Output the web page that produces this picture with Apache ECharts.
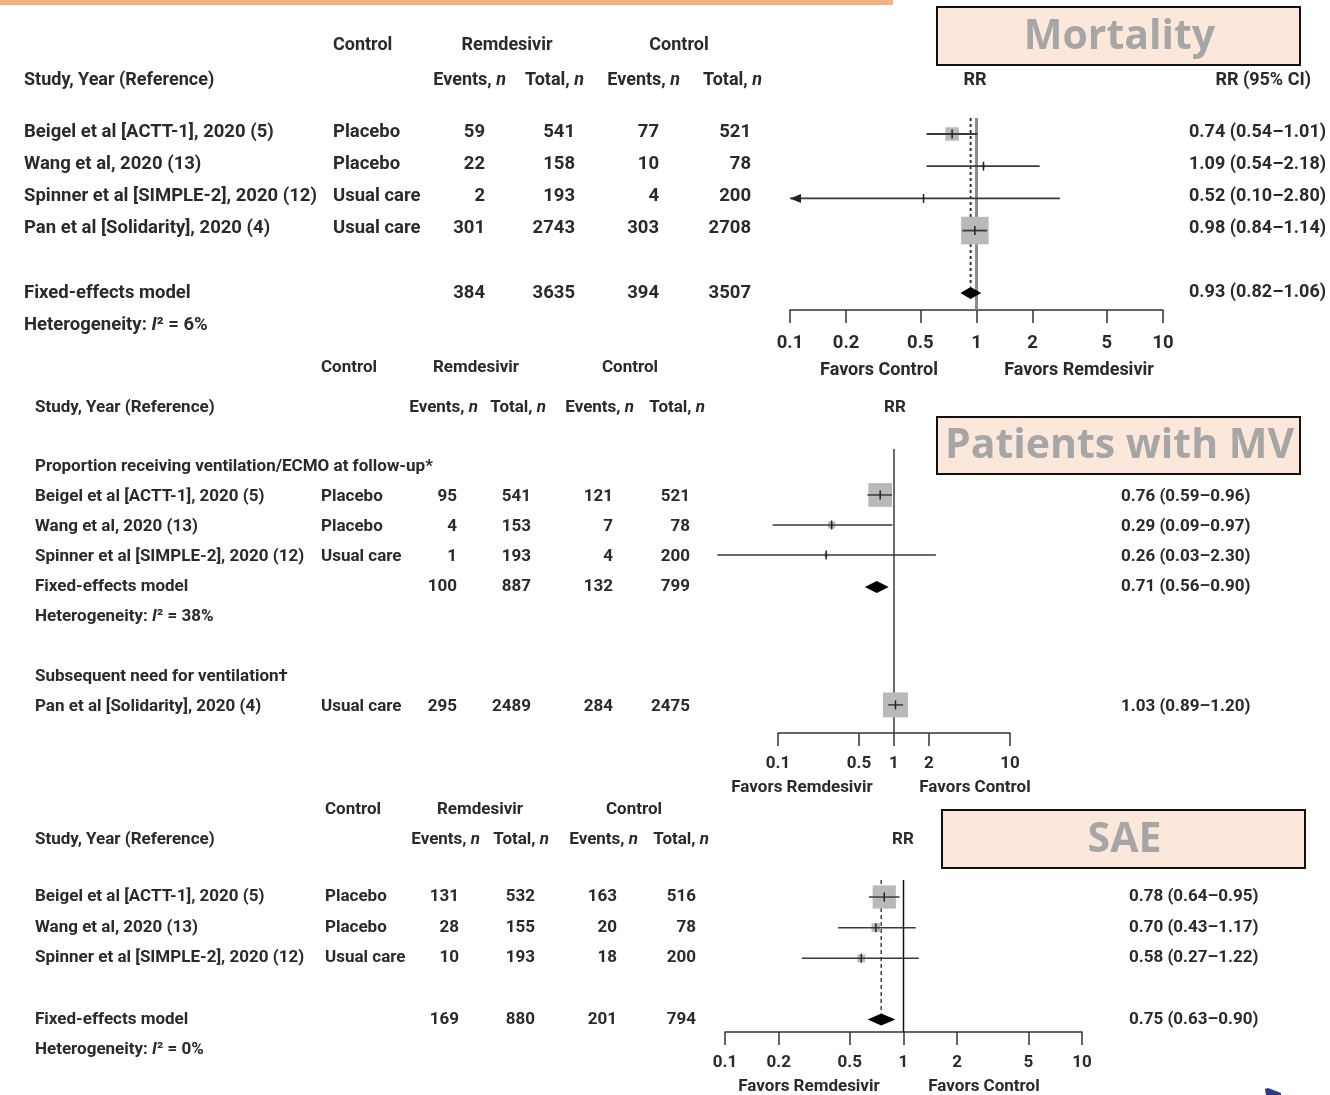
<!DOCTYPE html>
<html>
<head>
<meta charset="utf-8">
<script src="https://cdn.jsdelivr.net/npm/echarts@6/dist/echarts.min.js"></script>
<style>
  html, body { margin: 0; padding: 0; background: #fff; }
  #chart { width: 1330px; height: 1095px; }
</style>
</head>
<body>
<div id="chart"></div>
<script>
// ---------- Mortality ----------
const mortStudies = ['Beigel et al [ACTT-1], 2020 (5)', 'Wang et al, 2020 (13)', 'Spinner et al [SIMPLE-2], 2020 (12)', 'Pan et al [Solidarity], 2020 (4)'];
const mortControl = ['Placebo', 'Placebo', 'Usual care', 'Usual care'];
const mortRemEvents = [59, 22, 2, 301];
const mortRemTotal = [541, 158, 193, 2743];
const mortCtlEvents = [77, 10, 4, 303];
const mortCtlTotal = [521, 78, 200, 2708];
const mortRR = [0.74, 1.09, 0.52, 0.98];
const mortLower = [0.54, 0.54, 0.10, 0.84];
const mortUpper = [1.01, 2.18, 2.80, 1.14];
const mortWeight = [19, 1.2, 0.5, 79];
const mortPooledCounts = [384, 3635, 394, 3507];
const mortPooledRR = [0.93, 0.82, 1.06];
const mortI2 = 6;
const mortTicks = [0.1, 0.2, 0.5, 1, 2, 5, 10];

// ---------- Mechanical ventilation ----------
const mvGroupLabels = ['Proportion receiving ventilation/ECMO at follow-up*', 'Subsequent need for ventilation\u2020'];
const mvStudies = ['Beigel et al [ACTT-1], 2020 (5)', 'Wang et al, 2020 (13)', 'Spinner et al [SIMPLE-2], 2020 (12)'];
const mvControl = ['Placebo', 'Placebo', 'Usual care'];
const mvRemEvents = [95, 4, 1];
const mvRemTotal = [541, 153, 193];
const mvCtlEvents = [121, 7, 4];
const mvCtlTotal = [521, 78, 200];
const mvRR = [0.76, 0.29, 0.26];
const mvLower = [0.59, 0.09, 0.03];
const mvUpper = [0.96, 0.97, 2.30];
const mvWeight = [90, 8, 2];
const mvPooledCounts = [100, 887, 132, 799];
const mvPooledRR = [0.71, 0.56, 0.90];
const mvI2 = 38;
const ventStudies = ['Pan et al [Solidarity], 2020 (4)'];
const ventControl = ['Usual care'];
const ventRemEvents = [295];
const ventRemTotal = [2489];
const ventCtlEvents = [284];
const ventCtlTotal = [2475];
const ventRR = [1.03];
const ventLower = [0.89];
const ventUpper = [1.20];
const ventWeight = [100];
const mvTicks = [0.1, 0.5, 1, 2, 10];

// ---------- Serious adverse events ----------
const saeStudies = ['Beigel et al [ACTT-1], 2020 (5)', 'Wang et al, 2020 (13)', 'Spinner et al [SIMPLE-2], 2020 (12)'];
const saeControl = ['Placebo', 'Placebo', 'Usual care'];
const saeRemEvents = [131, 28, 10];
const saeRemTotal = [532, 155, 193];
const saeCtlEvents = [163, 20, 18];
const saeCtlTotal = [516, 78, 200];
const saeRR = [0.78, 0.70, 0.58];
const saeLower = [0.64, 0.43, 0.27];
const saeUpper = [0.95, 1.17, 1.22];
const saeWeight = [80, 11, 9];
const saePooledCounts = [169, 880, 201, 794];
const saePooledRR = [0.75, 0.63, 0.90];
const saeI2 = 0;
const saeTicks = [0.1, 0.2, 0.5, 1, 2, 5, 10];

// ---------- shared text ----------
const groupHeaders = ['Control', 'Remdesivir', 'Control'];
const columnHeaders = ['Study, Year (Reference)', 'Events, ', 'Total, ', 'Events, ', 'Total, '];
const panelTitles = ['Mortality', 'Patients with MV', 'SAE'];
const favorsTop = ['Favors Control', 'Favors Remdesivir'];
const favorsLower = ['Favors Remdesivir', 'Favors Control'];
const pooledName = 'Fixed-effects model';

const FONT = "Roboto, 'Liberation Sans', Arial, sans-serif";
const INK = '#2a2a2a';
const WEIGHT = 'bold';

function studyRows(start, names, controls, remEv, remTot, ctlEv, ctlTot, rr, lo, hi, wt) {
  return names.map((n, i) => ({
    kind: 'study', row: start + i, name: n, control: controls[i],
    counts: [remEv[i], remTot[i], ctlEv[i], ctlTot[i]],
    rr: rr[i], lo: lo[i], hi: hi[i], weight: wt[i]
  }));
}
function pooledRows(row, counts, est, i2) {
  return [
    { kind: 'pooled', row: row, name: pooledName, control: '', counts: counts, rr: est[0], lo: est[1], hi: est[2] },
    { kind: 'het', row: row + 1, i2: i2 }
  ];
}

const panels = [
  {
    grid: { left: 790, top: 118, width: 373, height: 192 }, yMin: -0.435, yMax: 5.53,
    ticks: mortTicks, fs: 18.5, ciFs: 18, labelMargin: 24, markShift: 2,
    cols: { study: 24, control: 333, remEv: 485, remTot: 575, ctlEv: 659, ctlTot: 751, ci: 1189 },
    boxK: 3.1, lineW: 1.8, ref: { color: '#8c8c8c', width: 3 },
    pooledRef: { color: '#333', width: 2, dash: [3, 3] }, arrowAtMin: true,
    rows: [].concat(
      studyRows(0, mortStudies, mortControl, mortRemEvents, mortRemTotal, mortCtlEvents, mortCtlTotal, mortRR, mortLower, mortUpper, mortWeight),
      pooledRows(5, mortPooledCounts, mortPooledRR, mortI2))
  },
  {
    grid: { left: 778, top: 449, width: 232, height: 284 }, yMin: -0.6, yMax: 8.87,
    ticks: mvTicks, fs: 17, ciFs: 17, labelMargin: 22, markShift: -2,
    cols: { study: 35, control: 321, remEv: 457, remTot: 531, ctlEv: 613, ctlTot: 690, ci: 1121 },
    boxK: 2.5, lineW: 1.5, ref: { color: '#3a3a3a', width: 1.5 },
    pooledRef: null, arrowAtMin: false,
    rows: [].concat(
      [{ kind: 'label', row: 0, text: mvGroupLabels[0] }],
      studyRows(1, mvStudies, mvControl, mvRemEvents, mvRemTotal, mvCtlEvents, mvCtlTotal, mvRR, mvLower, mvUpper, mvWeight),
      pooledRows(4, mvPooledCounts, mvPooledRR, mvI2),
      [{ kind: 'label', row: 7, text: mvGroupLabels[1] }],
      studyRows(8, ventStudies, ventControl, ventRemEvents, ventRemTotal, ventCtlEvents, ventCtlTotal, ventRR, ventLower, ventUpper, ventWeight))
  },
  {
    grid: { left: 725, top: 880, width: 357, height: 152 }, yMin: -0.556, yMax: 4.41,
    ticks: saeTicks, fs: 17, ciFs: 17, labelMargin: 22, markShift: 0,
    cols: { study: 35, control: 325, remEv: 459, remTot: 535, ctlEv: 617, ctlTot: 696, ci: 1129 },
    boxK: 2.6, lineW: 1.5, ref: { color: '#111', width: 1.5 },
    pooledRef: { color: '#444', width: 1.5, dash: [4, 3] }, arrowAtMin: false,
    rows: [].concat(
      studyRows(0, saeStudies, saeControl, saeRemEvents, saeRemTotal, saeCtlEvents, saeCtlTotal, saeRR, saeLower, saeUpper, saeWeight),
      pooledRows(4, saePooledCounts, saePooledRR, saeI2))
  }
];

// column header layout for each panel
const headerLayout = [
  { gy: 45, cy: 80, fs: 18, ctrl: [333, 'left'], rem: 507, ctl: 679, study: 24, rights: [506, 584, 680, 762], rr: 975, rrci: 1311 },
  { gy: 368, cy: 408, fs: 17, ctrl: [321, 'left'], rem: 476, ctl: 630, study: 35, rights: [478, 546, 634, 705], rr: 895, rrci: null },
  { gy: 810, cy: 840, fs: 17, ctrl: [325, 'left'], rem: 480, ctl: 634, study: 35, rights: [480, 549, 638, 709], rr: 903, rrci: null }
];
const favorsLayout = [
  { y: 370, xs: [879, 1079], texts: favorsTop, fs: 18 },
  { y: 788, xs: [802, 975], texts: favorsLower, fs: 17 },
  { y: 1087, xs: [809, 984], texts: favorsLower, fs: 17 }
];
const titleLayout = [
  { x: 937, y: 7, w: 363, h: 58 },
  { x: 937, y: 417, w: 363, h: 57 },
  { x: 942, y: 810, w: 363, h: 58 }
];

function txtStyle(text, align, fs, extra) {
  return Object.assign({
    text: text, align: align, textAlign: align, verticalAlign: 'middle', textVerticalAlign: 'middle',
    fill: INK, fontSize: fs, fontFamily: FONT, fontWeight: WEIGHT
  }, extra || {});
}
function richBase(fs) {
  return {
    b: { fill: INK, fontSize: fs, fontFamily: FONT, fontWeight: WEIGHT },
    i: { fill: INK, fontSize: fs, fontFamily: FONT, fontWeight: WEIGHT, fontStyle: 'italic' }
  };
}
function fmtCI(r) {
  return r.rr.toFixed(2) + ' (' + r.lo.toFixed(2) + '\u2013' + r.hi.toFixed(2) + ')';
}

function rowRenderer(p) {
  return function (params, api) {
    const r = p.rows[params.dataIndex];
    const y = api.coord([1, r.row])[1];
    const kids = [];
    const addText = (x, s, align, fs, extra) => kids.push({ type: 'text', x: x, y: y, silent: true, style: txtStyle(s, align, fs || p.fs, extra) });
    if (r.kind === 'label') {
      addText(p.cols.study, r.text, 'left', p.fs);
    } else if (r.kind === 'het') {
      addText(p.cols.study, '{b|Heterogeneity: }{i|I}{b|\u00B2 = ' + r.i2 + '%}', 'left', p.fs, { rich: richBase(p.fs) });
    } else {
      addText(p.cols.study, r.name, 'left');
      if (r.control) addText(p.cols.control, r.control, 'left');
      addText(p.cols.remEv, String(r.counts[0]), 'right');
      addText(p.cols.remTot, String(r.counts[1]), 'right');
      addText(p.cols.ctlEv, String(r.counts[2]), 'right');
      addText(p.cols.ctlTot, String(r.counts[3]), 'right');
      addText(p.cols.ci, fmtCI(r), 'left', p.ciFs);

      const xe = api.coord([r.rr, r.row])[0];
      const xl = api.coord([r.lo, r.row])[0];
      const xh = api.coord([r.hi, r.row])[0];
      if (r.kind === 'pooled') {
        kids.push({ type: 'polygon', shape: { points: [[xl, y], [xe, y - 6], [xh, y], [xe, y + 6]] }, style: { fill: '#000' } });
      } else {
        const ym = y + p.markShift;
        const s = p.boxK * Math.sqrt(r.weight);
        kids.push({ type: 'rect', shape: { x: xe - s / 2, y: ym - s / 2, width: s, height: s }, style: { fill: '#b9b9b9' } });
        kids.push({ type: 'line', shape: { x1: xl, y1: ym, x2: xh, y2: ym }, style: { stroke: '#3a3a3a', lineWidth: p.lineW } });
        kids.push({ type: 'line', shape: { x1: xe, y1: ym - 4.5, x2: xe, y2: ym + 4.5 }, style: { stroke: '#222', lineWidth: 1.5 } });
        if (p.arrowAtMin && r.lo <= 0.1) {
          kids.push({ type: 'polygon', shape: { points: [[xl, ym], [xl + 11, ym - 4.5], [xl + 11, ym + 4.5]] }, style: { fill: '#222' } });
        }
      }
    }
    return { type: 'group', children: kids };
  };
}

function refRenderer(p) {
  return function (params, api) {
    const kids = [];
    const a = api.coord([1, p.yMin]);
    const b = api.coord([1, p.yMax]);
    kids.push({ type: 'line', shape: { x1: a[0], y1: a[1], x2: b[0], y2: b[1] }, style: { stroke: p.ref.color, lineWidth: p.ref.width } });
    if (p.pooledRef) {
      const pooled = p.rows.find(r => r.kind === 'pooled');
      const c = api.coord([pooled.rr, p.yMin]);
      const d = api.coord([pooled.rr, pooled.row - 0.2]);
      kids.push({ type: 'line', shape: { x1: c[0], y1: c[1], x2: d[0], y2: d[1] }, style: { stroke: p.pooledRef.color, lineWidth: p.pooledRef.width, lineDash: p.pooledRef.dash } });
    }
    return { type: 'group', children: kids };
  };
}

const graphics = [];
// accent bar along the top edge
graphics.push({ type: 'rect', shape: { x: 0, y: 0, width: 893, height: 5 }, style: { fill: '#f4b183' }, silent: true });

headerLayout.forEach(h => {
  graphics.push({ type: 'text', x: h.ctrl[0], y: h.gy, style: txtStyle(groupHeaders[0], h.ctrl[1], h.fs) });
  graphics.push({ type: 'text', x: h.rem, y: h.gy, style: txtStyle(groupHeaders[1], 'center', h.fs) });
  graphics.push({ type: 'text', x: h.ctl, y: h.gy, style: txtStyle(groupHeaders[2], 'center', h.fs) });
  graphics.push({ type: 'text', x: h.study, y: h.cy, style: txtStyle(columnHeaders[0], 'left', h.fs) });
  for (let k = 0; k < 4; k++) {
    graphics.push({ type: 'text', x: h.rights[k], y: h.cy,
      style: txtStyle('{b|' + columnHeaders[k + 1] + '}{i|n}', 'right', h.fs, { rich: richBase(h.fs) }) });
  }
  graphics.push({ type: 'text', x: h.rr, y: h.cy, style: txtStyle('RR', 'center', h.fs) });
  if (h.rrci) graphics.push({ type: 'text', x: h.rrci, y: h.cy, style: txtStyle('RR (95% CI)', 'right', h.fs) });
});

favorsLayout.forEach(f => {
  f.texts.forEach((t, k) => graphics.push({ type: 'text', x: f.xs[k], y: f.y, style: txtStyle(t, 'center', f.fs) }));
});

titleLayout.forEach((t, k) => {
  graphics.push({ type: 'rect', shape: { x: t.x, y: t.y, width: t.w, height: t.h }, style: { fill: '#fce7db', stroke: '#111', lineWidth: 2 } });
  graphics.push({ type: 'text', x: t.x + t.w / 2 + 1, y: t.y + t.h / 2 + 1,
    style: { text: panelTitles[k], align: 'center', textAlign: 'center', verticalAlign: 'middle', textVerticalAlign: 'middle',
      fill: '#a6a6a6', fontSize: 41, fontWeight: 'bold', fontFamily: "'Open Sans', 'Noto Sans', sans-serif" } });
});
// faint trailing rule inside the SAE banner
graphics.push({ type: 'line', shape: { x1: 1168, y1: 848, x2: 1246, y2: 848 }, style: { stroke: '#e6dcd6', lineWidth: 1, lineDash: [6, 8] } });
// small navy pointer at the lower right edge
graphics.push({ type: 'polygon', shape: { points: [[1265, 1089], [1268, 1088], [1281, 1093], [1281, 1095], [1266, 1095]] }, style: { fill: '#2e3a87' } });

const option = {
  backgroundColor: '#fff',
  animation: false,
  grid: panels.map(p => Object.assign({ containLabel: false }, p.grid)),
  xAxis: panels.map((p, i) => ({
    type: 'log', logBase: 10, min: 0.1, max: 10, gridIndex: i,
    axisLine: { show: true, onZero: false, lineStyle: { color: '#333', width: 1.5 } },
    axisTick: { show: true, inside: false, length: 13, customValues: p.ticks, lineStyle: { color: '#333', width: 1.5 } },
    axisLabel: { show: true, customValues: p.ticks, margin: p.labelMargin, formatter: v => String(v),
      color: INK, fontSize: p.fs, fontWeight: WEIGHT, fontFamily: FONT },
    splitLine: { show: false }, minorTick: { show: false }
  })),
  yAxis: panels.map((p, i) => ({
    type: 'value', gridIndex: i, inverse: true, min: p.yMin, max: p.yMax, show: false,
    splitLine: { show: false }
  })),
  series: [].concat(
    panels.map((p, i) => ({
      type: 'custom', xAxisIndex: i, yAxisIndex: i, clip: false, z: 1, silent: true,
      data: [[1, p.yMin]], encode: { x: 0, y: 1 },
      renderItem: refRenderer(p)
    })),
    panels.map((p, i) => ({
      type: 'custom', xAxisIndex: i, yAxisIndex: i, clip: false, z: 2, silent: true,
      data: p.rows.map(r => [r.rr !== undefined ? r.rr : 1, r.row]), encode: { x: 0, y: 1 },
      renderItem: rowRenderer(p)
    }))
  ),
  graphic: { elements: graphics }
};

const chart = echarts.init(document.getElementById('chart'), null, { renderer: 'canvas' });
chart.setOption(option);
</script>
</body>
</html>
